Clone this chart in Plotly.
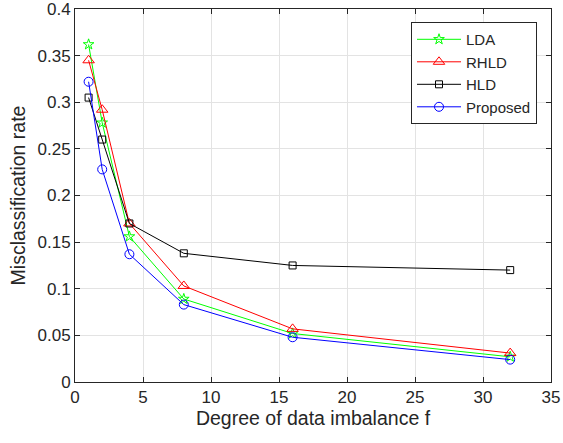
import plotly.graph_objects as go

f_values = [1, 2, 4, 8, 16, 32]
lda = [0.362, 0.278, 0.156, 0.089, 0.052, 0.027]
rhld = [0.345, 0.292, 0.170, 0.103, 0.057, 0.031]
hld = [0.305, 0.260, 0.170, 0.138, 0.125, 0.120]
proposed = [0.322, 0.228, 0.137, 0.083, 0.048, 0.024]

series = [
    ("LDA", lda, "#00ff00", "star-open", 8),
    ("RHLD", rhld, "#ff0000", "triangle-up-open", 10),
    ("HLD", hld, "#000000", "square-open", 7),
    ("Proposed", proposed, "#0000ff", "circle-open", 9),
]

fig = go.Figure()
for name, vals, color, sym, size in series:
    fig.add_trace(go.Scatter(
        x=f_values, y=vals, name=name, mode="lines+markers", legendgroup=name,
        line=dict(color=color, width=1),
        marker=dict(symbol=sym, size=size, color=color, line=dict(color=color, width=1)),
    ))

FONT = "Liberation Sans, Arial, Helvetica"
axis_common = dict(
    showline=True, linecolor="#262626", linewidth=1, mirror="allticks",
    ticks="inside", ticklen=5, tickcolor="#262626",
    showgrid=True, gridcolor="#e3e3e3", gridwidth=1, zeroline=False,
    tickfont=dict(family=FONT, size=17, color="#262626"),
    automargin=False, ticklabeloverflow="allow",
)

fig.update_layout(
    width=563, height=443,
    margin=dict(l=75, r=12, t=9, b=61),
    paper_bgcolor="white", plot_bgcolor="white",
    font=dict(family=FONT, color="#262626"),
    xaxis=dict(range=[0, 35], tickvals=[0, 5, 10, 15, 20, 25, 30, 35],
               title=dict(text="Degree of data imbalance f", font=dict(size=19.5), standoff=4),
               **axis_common),
    yaxis=dict(range=[0, 0.4], tickvals=[0, 0.05, 0.1, 0.15, 0.2, 0.25, 0.3, 0.35, 0.4],
               ticktext=["0", "0.05", "0.1", "0.15", "0.2", "0.25", "0.3", "0.35", "0.4"],
               title=dict(text="Misclassification rate", font=dict(size=19.5), standoff=6),
               **axis_common),
    legend=dict(x=0.9706, y=0.965, xanchor="right", yanchor="top",
                bordercolor="#262626", borderwidth=1, bgcolor="white",
                font=dict(family=FONT, size=15, color="#262626"),
                tracegroupgap=1, itemwidth=44, traceorder="normal"),
    showlegend=True,
)

fig.write_html("out.html", config={"displayModeBar": False},
               post_script="document.body.style.margin='0';document.body.style.overflow='hidden';")
